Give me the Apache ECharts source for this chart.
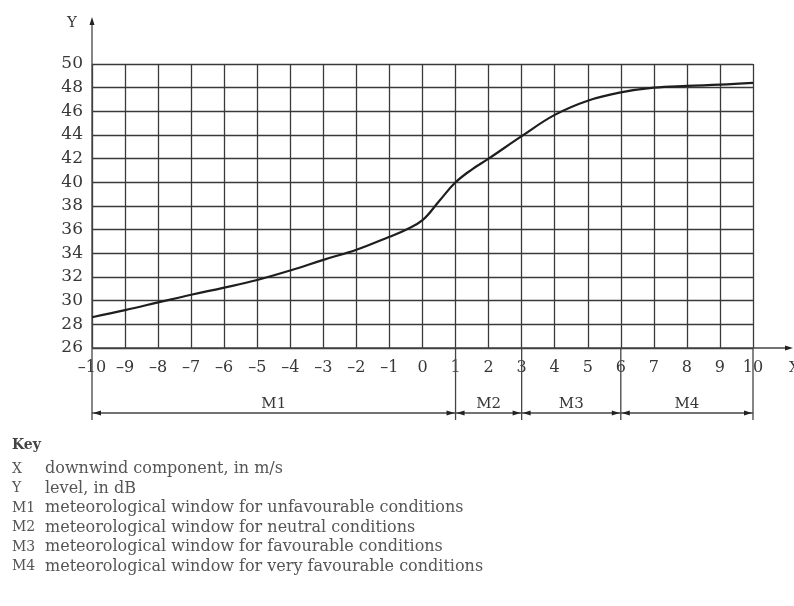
<!DOCTYPE html>
<html>
<head>
<meta charset="utf-8">
<script src="https://cdn.jsdelivr.net/npm/echarts@6/dist/echarts.min.js"></script>
<style>
html,body{margin:0;padding:0;background:#fff;}
#chart{width:794px;height:606px;}
</style>
</head>
<body>
<div id="chart"></div>
<script>
// ---- data ----
const xValues = [-10, -9, -8, -7, -6, -5, -4, -3, -2, -1, -0.5, 0, 0.5, 1, 1.5, 2, 3, 4, 5, 6, 7, 8, 9, 10];
const levelValues = [28.6, 29.2, 29.85, 30.5, 31.1, 31.75, 32.55, 33.45, 34.3, 35.4, 36.0, 36.8, 38.4, 40.0, 41.1, 42.0, 43.9, 45.7, 46.9, 47.6, 48.0, 48.15, 48.25, 48.4];
const windowEdges = [-10, 1, 3, 6, 10];
const windowNames = ['M1', 'M2', 'M3', 'M4'];
const keySymbols = ['X', 'Y', 'M1', 'M2', 'M3', 'M4'];
const keyTexts = [
  'downwind component, in m/s',
  'level, in dB',
  'meteorological window for unfavourable conditions',
  'meteorological window for neutral conditions',
  'meteorological window for favourable conditions',
  'meteorological window for very favourable conditions'
];
const xMin = -10, xMax = 10, yMin = 26, yMax = 50;

const SERIF = '"DejaVu Serif", "Liberation Serif", serif';
const TXT = '#383838';
const GRID = '#3a3a3a';

const chart = echarts.init(document.getElementById('chart'), null, {renderer: 'canvas'});

const curveData = xValues.map((x, i) => [x, levelValues[i]]);
const windowData = windowNames.map((n, i) => [windowEdges[i], windowEdges[i + 1]]);

function arrowHead(x, y, dir) {
  return {
    type: 'polygon',
    shape: {points: [[x, y], [x - dir * 8, y - 2.5], [x - dir * 8, y + 2.5]]},
    style: {fill: '#222'}
  };
}

const option = {
  animation: false,
  backgroundColor: '#fff',
  grid: {left: 92, right: 41, top: 64, bottom: 258, containLabel: false},
  xAxis: {
    type: 'value', min: xMin, max: xMax, interval: 1,
    axisLine: {show: false}, axisTick: {show: false},
    splitLine: {show: true, lineStyle: {color: GRID, width: 1.3}},
    axisLabel: {
      margin: 12, color: TXT, fontFamily: SERIF, fontSize: 16,
      formatter: v => (v < 0 ? '\u2013' + Math.abs(v) : String(v))
    }
  },
  yAxis: {
    type: 'value', min: yMin, max: yMax, interval: 2,
    axisLine: {show: false}, axisTick: {show: false},
    splitLine: {show: true, lineStyle: {color: GRID, width: 1.3}},
    axisLabel: {margin: 9, color: TXT, fontFamily: SERIF, fontSize: 17}
  },
  series: [
    {
      type: 'line', data: curveData, smooth: 0.4, symbol: 'none',
      lineStyle: {color: '#1e1e1e', width: 2.2}, z: 5
    },
    {
      type: 'custom', data: windowData, clip: false, z: 6,
      encode: {x: [0, 1]},
      renderItem: function (params, api) {
        const s = api.value(0), e = api.value(1);
        const a = api.coord([s, yMin]);
        const b = api.coord([e, yMin]);
        const yLine = a[1] + 65;
        const children = [
          {type: 'line', shape: {x1: a[0], y1: a[1], x2: a[0], y2: a[1] + 72}, style: {stroke: '#444', lineWidth: 1.3}},
          {type: 'line', shape: {x1: a[0], y1: yLine, x2: b[0], y2: yLine}, style: {stroke: '#444', lineWidth: 1.3}},
          arrowHead(a[0] + 1, yLine, -1),
          arrowHead(b[0] - 1, yLine, 1),
          {type: 'text', style: {text: windowNames[params.dataIndex], x: (a[0] + b[0]) / 2, y: yLine - 9,
            textAlign: 'center', textVerticalAlign: 'middle', fill: TXT, font: '15px ' + SERIF}}
        ];
        if (params.dataIndex === windowNames.length - 1) {
          children.push({type: 'line', shape: {x1: b[0], y1: b[1], x2: b[0], y2: b[1] + 72}, style: {stroke: '#444', lineWidth: 1.3}});
        }
        return {type: 'group', children: children};
      }
    }
  ]
};
chart.setOption(option);

// axes with arrows and key text
const origin = chart.convertToPixel({gridIndex: 0}, [xMin, yMin]);
const topPt = chart.convertToPixel({gridIndex: 0}, [xMin, yMax]);
const graphics = [
  {type: 'line', shape: {x1: origin[0], y1: origin[1], x2: origin[0], y2: topPt[1] - 42}, style: {stroke: '#444', lineWidth: 1.3}},
  {type: 'polygon', shape: {points: [[origin[0], topPt[1] - 47], [origin[0] - 2.5, topPt[1] - 39], [origin[0] + 2.5, topPt[1] - 39]]}, style: {fill: '#222'}},
  {type: 'text', style: {text: 'Y', x: origin[0] - 20, y: topPt[1] - 41, textAlign: 'center', textVerticalAlign: 'middle', fill: TXT, font: '15px ' + SERIF}},
  {type: 'line', shape: {x1: origin[0], y1: origin[1], x2: 788, y2: origin[1]}, style: {stroke: '#444', lineWidth: 1.3}},
  {type: 'polygon', shape: {points: [[793, origin[1]], [785, origin[1] - 2.5], [785, origin[1] + 2.5]]}, style: {fill: '#222'}},
  {type: 'text', style: {text: 'X', x: 789, y: origin[1] + 20, textAlign: 'left', textVerticalAlign: 'middle', fill: TXT, font: '15px ' + SERIF}},
  {type: 'text', style: {text: 'Key', x: 12, y: 445, textVerticalAlign: 'middle', fill: '#444', font: 'bold 14px ' + SERIF}}
];
keySymbols.forEach((s, i) => {
  const y = 469 + i * 19.5;
  graphics.push({type: 'text', style: {text: s, x: 12, y: y, textVerticalAlign: 'middle', fill: '#555', font: '14px ' + SERIF}});
  graphics.push({type: 'text', style: {text: keyTexts[i], x: 45, y: y, textVerticalAlign: 'middle', fill: '#555', font: '16px ' + SERIF}});
});
chart.setOption({graphic: graphics});
</script>
</body>
</html>
